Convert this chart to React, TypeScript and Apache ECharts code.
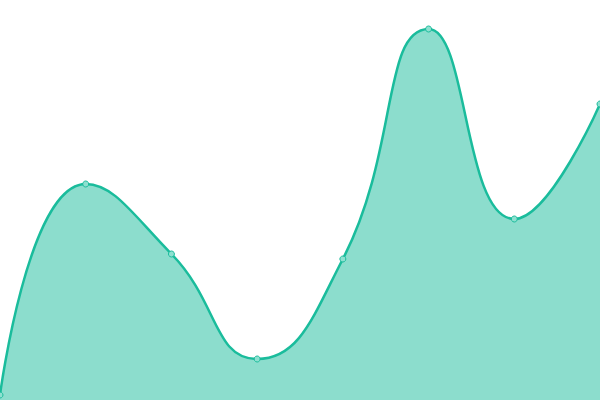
import React, { useEffect, useRef } from "react";
import * as echarts from "echarts";

const categories = ["1", "2", "3", "4", "5", "6", "7", "8"];
const values = [5, 216, 146, 41, 141, 371, 181, 296];

export default function App() {
  const ref = useRef<HTMLDivElement>(null);
  useEffect(() => {
    const chart = echarts.init(ref.current!, null, { renderer: "svg" });
    chart.setOption({
      animation: false,
      grid: { left: 0, right: 0, top: 0, bottom: 0 },
      xAxis: { type: "category", data: categories, boundaryGap: false, show: false },
      yAxis: { type: "value", min: 0, max: 400, show: false },
      series: [
        {
          type: "line",
          data: values,
          smooth: true,
          symbol: "circle",
          symbolSize: 6,
          lineStyle: { color: "#1abc9c", width: 2.5 },
          itemStyle: { color: "#8ee0d0", borderColor: "#1abc9c", borderWidth: 1 },
          areaStyle: { color: "#1abc9c", opacity: 0.5 },
        },
      ],
    });
    return () => chart.dispose();
  }, []);
  return (
    <div
      ref={ref}
      style={{ position: "absolute", left: 0, top: 0, width: 600, height: 400 }}
    />
  );
}
